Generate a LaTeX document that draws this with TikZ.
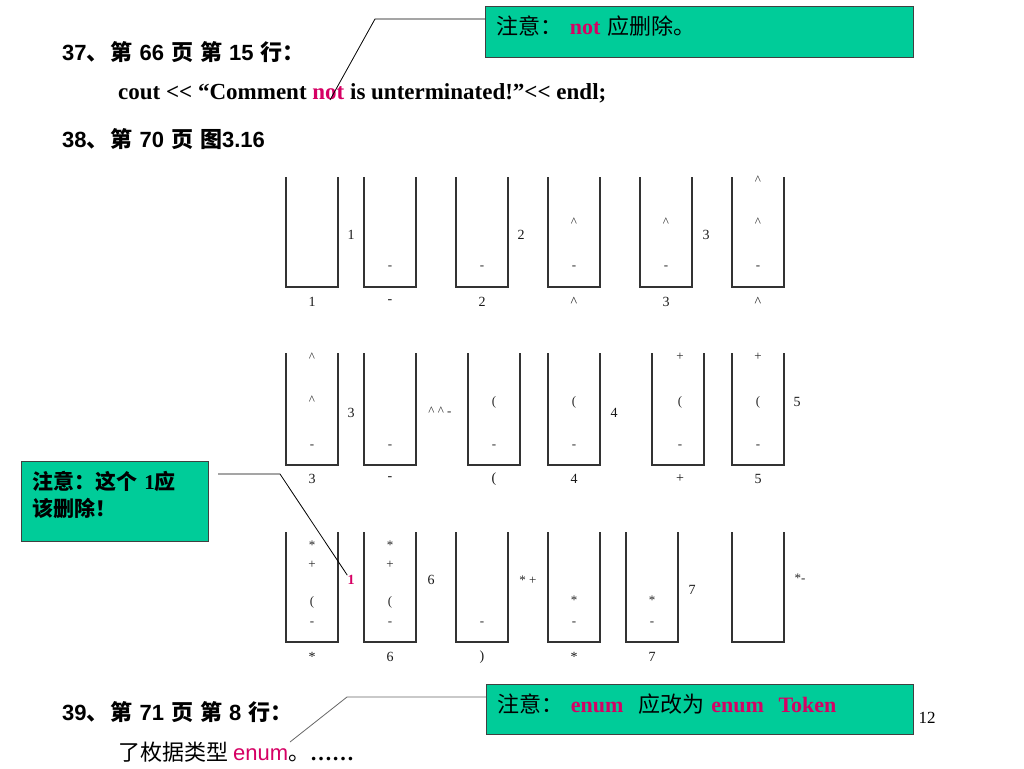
\documentclass[tikz,border=0pt]{standalone}
\usepackage{fontspec}
\setmainfont{Liberation Serif}
\newfontfamily\cjk{Noto Sans CJK SC}
\newfontfamily\arial{Liberation Sans}
\definecolor{notegreen}{RGB}{0,204,153}
\definecolor{mag}{RGB}{214,0,100}
\newcommand\stackbox[3]{\draw[stk] (#1,#2) |- (#1+52,#3) -- (#1+52,#2);}
\newcommand\gp{\hspace{7pt}}
\tikzset{
  stk/.style={draw=black!80, line width=1.1pt},
  sm/.style={font=\fontsize{13}{13}\selectfont, inner sep=0pt, text=black!85},
  lb/.style={font=\fontsize{14}{14}\selectfont, inner sep=0pt, text=black!90},
  head/.style={anchor=west, inner sep=0pt, font=\fontsize{22}{22}\selectfont\arial\bfseries},
  note/.style={draw=black!75, fill=notegreen, line width=0.9pt, anchor=north west, align=left, inner xsep=11pt},
  lead/.style={draw=black, line width=0.8pt},
}
\begin{document}
\begin{tikzpicture}[x=1pt,y=-1pt]
\useasboundingbox[fill=white] (0,0) rectangle (1024,768);

% headings
\node[head] (h37) at (62,52) {37{\cjk 、\hspace{2pt}第}\gp66\gp{\cjk 页}\gp{\cjk 第}\gp15\gp{\cjk 行：}};
\node[anchor=west, inner sep=0pt, font=\fontsize{23}{23}\selectfont\bfseries] (cout) at (118,93)
  {cout <{}< “Comment {\color{mag}not} is unterminated!”<{}< endl;};
\node[head] (h38) at (62,139) {38{\cjk 、\hspace{2pt}第}\gp70\gp{\cjk 页}\gp{\cjk 图}3.16};
\node[head] (h39) at (62,712) {39{\cjk 、\hspace{2pt}第}\gp71\gp{\cjk 页}\gp{\cjk 第}\gp8\gp{\cjk 行：}};
\node[anchor=west, inner sep=0pt, font=\fontsize{22}{22}\selectfont] (enl) at (118,752)
  {{\cjk 了枚据类型 }{\arial\color{mag}enum}{\cjk 。}{\bfseries ……}};
\node[anchor=center, inner sep=0pt, font=\fontsize{17}{17}\selectfont] (pg) at (927,718) {12};

% notes
\node[note, minimum width=428pt, minimum height=51pt, text width=406pt, text depth=13pt, font=\fontsize{22}{22}\selectfont] (n1) at (485,6)
  {{\cjk 注意：} {\bfseries\color{mag}not} {\cjk 应删除。}};
\node[note, minimum width=187pt, minimum height=80pt, text width=165pt, text depth=42pt, font=\fontsize{21}{27}\selectfont\bfseries] (n2) at (21,461)
  {{\cjk 注意：这个 }1{\cjk 应}\\{\cjk 该删除！}};
\node[note, minimum width=427pt, minimum height=50pt, text width=405pt, text depth=12pt, font=\fontsize{22}{22}\selectfont] (n3) at (486,684)
  {{\cjk 注意：} {\bfseries\color{mag}enum}\ \ {\cjk 应改为 }{\bfseries\color{mag}enum\ \ Token}};

% stacks row 1
\foreach \x in {286,364,456,548,640,732} {\stackbox{\x}{177}{287}}
% stacks row 2
\foreach \x in {286,364,468,548,652,732} {\stackbox{\x}{353}{465}}
% stacks row 3
\foreach \x in {286,364,456,548,626,732} {\stackbox{\x}{532}{642}}

% row 1 contents
\foreach \x/\y/\t [count=\i] in {390/268/-, 482/268/-, 574/222/\textasciicircum, 574/268/-,
   666/222/\textasciicircum, 666/268/-, 758/180/\textasciicircum, 758/222/\textasciicircum, 758/268/-}
  \node[sm] (a\i) at (\x,\y) {\t};
\foreach \x/\y/\t [count=\i] in {312/302/1, 390/302/-, 482/302/2, 574/302/\textasciicircum, 666/302/3, 758/302/\textasciicircum,
   351/235/1, 521/235/2, 706/235/3}
  \node[lb] (al\i) at (\x,\y) {\t};

% row 2 contents
\foreach \x/\y/\t [count=\i] in {312/357/\textasciicircum, 312/400/\textasciicircum, 312/447/-, 390/447/-,
   494/402/(, 494/447/-, 574/402/(, 574/447/-, 680/357/+, 680/402/(, 680/447/-,
   758/357/+, 758/402/(, 758/447/-, 440/411/\textasciicircum\ \textasciicircum\ -}
  \node[sm] (b\i) at (\x,\y) {\t};
\foreach \x/\y/\t [count=\i] in {312/479/3, 390/479/-, 494/479/(, 574/479/4, 680/479/+, 758/479/5,
   351/413/3, 614/413/4, 797/402/5}
  \node[lb] (bl\i) at (\x,\y) {\t};

% row 3 contents
\foreach \x/\y/\t [count=\i] in {312/545/*, 312/565/+, 312/602/(, 312/624/-,
   390/545/*, 390/565/+, 390/602/(, 390/624/-, 482/624/-, 574/600/*, 574/624/-,
   652/600/*, 652/624/-, 528/580/* +, 800/578/*-}
  \node[sm] (c\i) at (\x,\y) {\t};
\foreach \x/\y/\t [count=\i] in {312/657/*, 390/657/6, 482/657/), 574/657/*, 652/657/7,
   431/580/6, 692/590/7}
  \node[lb] (cl\i) at (\x,\y) {\t};
\node[lb, text=mag, font=\fontsize{14}{14}\selectfont\bfseries] (r1) at (351,580) {1};

% leader lines
\coordinate (k1) at (375,19);
\coordinate (t1) at (330,100);
\draw[lead] (n1.west |- k1) -- (k1) -- (t1);
\coordinate (k2a) at (218,474);
\coordinate (k2) at (280,474);
\draw[lead] (k2a) -- (k2) -- (r1.north west);
\coordinate (k3) at (347,697);
\coordinate (t3) at (290,742);
\draw[lead, draw=black!60] (n3.west |- k3) -- (k3) -- (t3);
\end{tikzpicture}
\end{document}
